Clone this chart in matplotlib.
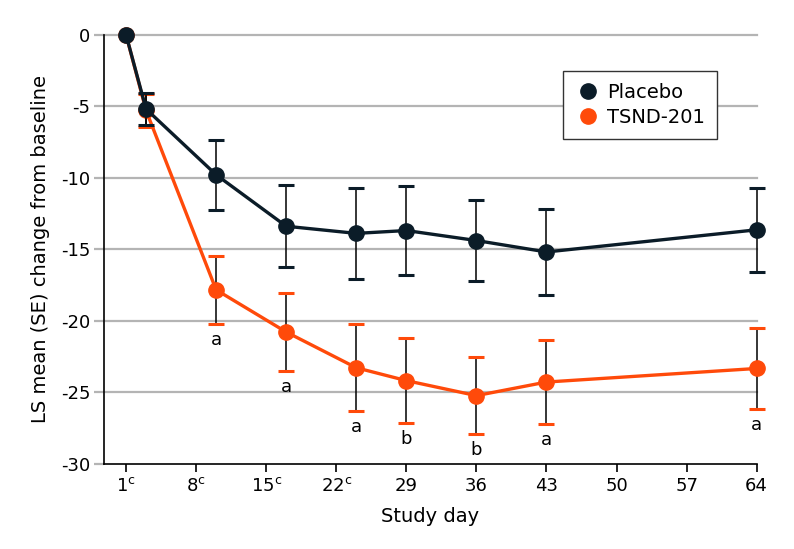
import matplotlib
matplotlib.use("Agg")
import matplotlib.pyplot as plt
from matplotlib.lines import Line2D

plt.rcParams['font.family'] = ['DejaVu Sans']
plt.rcParams['axes.unicode_minus'] = False
plt.rcParams['mathtext.default'] = 'regular'

# Data
days = [1, 3, 10, 17, 24, 29, 36, 43, 64]
placebo_mean = [0.0, -5.2, -9.8, -13.4, -13.9, -13.7, -14.4, -15.2, -13.65]
placebo_se = [0.0, 1.15, 2.45, 2.87, 3.17, 3.1, 2.84, 3.03, 2.95]
tsnd_mean = [0.0, -5.3, -17.85, -20.8, -23.3, -24.2, -25.25, -24.3, -23.35]
tsnd_se = [0.0, 1.15, 2.4, 2.76, 3.05, 3.0, 2.7, 2.95, 2.86]
sig_labels = ['', '', 'a', 'a', 'a', 'b', 'b', 'a', 'a']
xtick_vals = [1, 8, 15, 22, 29, 36, 43, 50, 57, 64]
xtick_labels = ['1$^{c}$', '8$^{c}$', '15$^{c}$', '22$^{c}$', '29', '36', '43', '50', '57', '64']
yticks = [0, -5, -10, -15, -20, -25, -30]

dark = '#0b1c28'
orange = '#ff4a0a'
grid_c = '#b4b4b4'

fig = plt.figure(figsize=(7.94, 5.49), dpi=100)
ax = fig.add_axes([0.131, 0.1557, 0.953 - 0.131, 0.9368 - 0.1557])

ax.set_xlim(-1.2, 64)
ax.set_ylim(-30, 0)

for y in yticks[:-1]:
    ax.axhline(y, color=grid_c, lw=1.6, zorder=0, clip_on=False)

def draw_series(mean, se, color, z):
    err_days = [d for d, s in zip(days, se) if s > 0]
    m = [v for v, s in zip(mean, se) if s > 0]
    e = [s for s in se if s > 0]
    lo = [a - b for a, b in zip(m, e)]
    hi = [a + b for a, b in zip(m, e)]
    # vertical error lines (black)
    ax.vlines(err_days, lo, hi, color='black', lw=1.1, zorder=z, clip_on=False)
    # caps colored
    ax.plot(err_days, lo, linestyle='none', marker='_', markersize=12,
            markeredgewidth=2.2, color=color, zorder=z + 0.1, clip_on=False)
    ax.plot(err_days, hi, linestyle='none', marker='_', markersize=12,
            markeredgewidth=2.2, color=color, zorder=z + 0.1, clip_on=False)
    ax.plot(days, mean, color=color, lw=2.4, marker='o', markersize=11,
            zorder=z + 0.2, clip_on=False)

draw_series(tsnd_mean, tsnd_se, orange, 3)
draw_series(placebo_mean, placebo_se, dark, 4)

for d, m, s, lab in zip(days, tsnd_mean, tsnd_se, sig_labels):
    if lab:
        ax.text(d, m - s - 0.45, lab, ha='center', va='top', fontsize=13, color='black')

ax.set_xticks(xtick_vals)
ax.set_xticklabels(xtick_labels, fontsize=13)
ax.set_yticks(yticks)
ax.set_yticklabels([str(v) for v in yticks], fontsize=13)
ax.tick_params(axis='y', length=7, color=grid_c, width=1.6, pad=3)
ax.tick_params(axis='x', length=6, color='black', width=1.2, pad=4)

for s in ['top', 'right']:
    ax.spines[s].set_visible(False)
ax.spines['left'].set_linewidth(1.2)
ax.spines['bottom'].set_linewidth(1.2)

ax.set_xlabel('Study day', fontsize=14, labelpad=8)
ax.set_ylabel('LS mean (SE) change from baseline', fontsize=14, labelpad=8)

handles = [Line2D([], [], linestyle='none', marker='o', markersize=11, color=dark),
           Line2D([], [], linestyle='none', marker='o', markersize=11, color=orange)]
leg = ax.legend(handles, ['Placebo', 'TSND-201'], loc='upper left',
                bbox_to_anchor=(0.688, 0.937), fontsize=14, frameon=True,
                fancybox=False, edgecolor='#333333', framealpha=1,
                handletextpad=0.3, borderpad=0.6, labelspacing=0.3, handlelength=1.4)
leg.get_frame().set_linewidth(1.0)

fig.savefig('out.png', dpi=100)
